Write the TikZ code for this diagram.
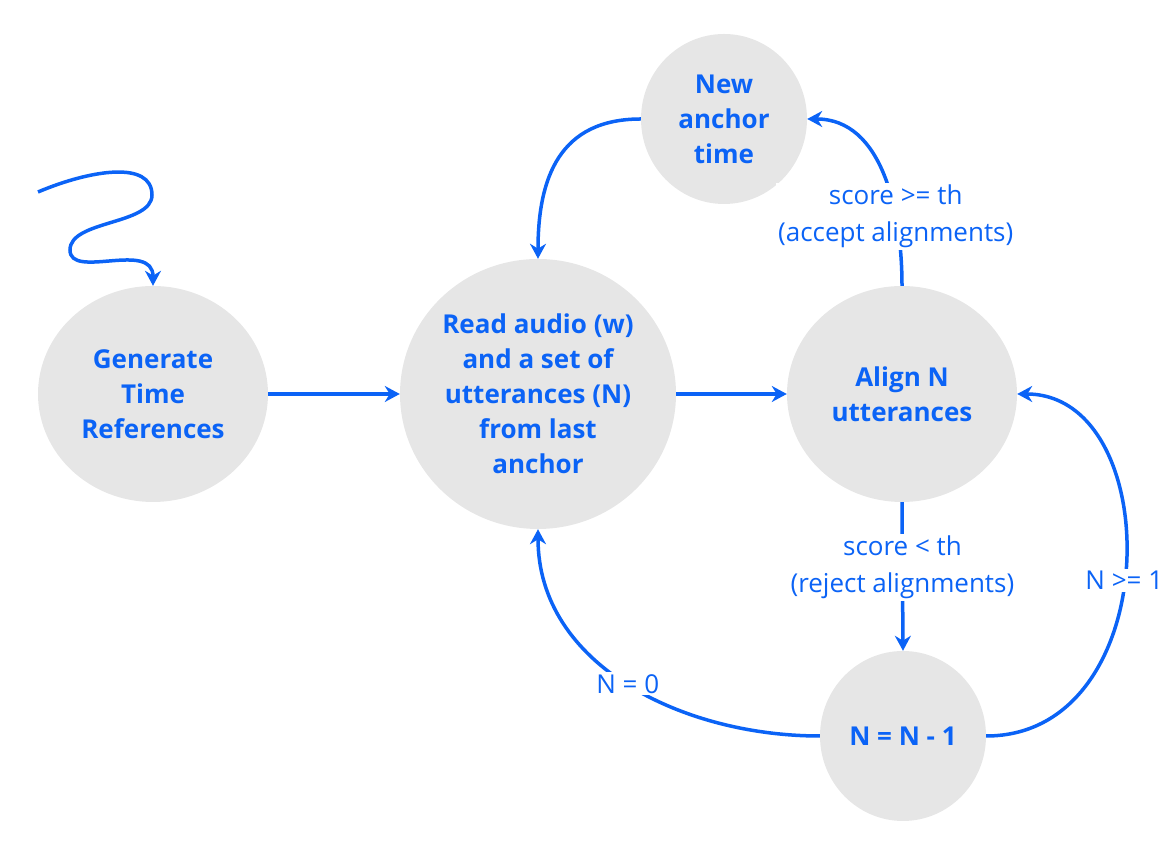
\documentclass[tikz,border=0pt]{standalone}
\usepackage{fontspec}
\setmainfont{Open Sans}
\usetikzlibrary{arrows.meta,shapes.geometric}
\definecolor{flowblue}{HTML}{0B63F6}
\definecolor{stategray}{HTML}{E6E6E6}

\begin{document}
\begin{tikzpicture}[x=1pt, y=1pt,
        state/.style = {ellipse, fill=stategray, inner sep=0pt, text=flowblue, align=center,
                        font=\fontsize{26}{35}\selectfont\bfseries},
        flow/.style  = {draw=flowblue, line width=3.5pt, -{Stealth[length=15pt,width=16pt]}},
        cond/.style  = {fill=white, text=flowblue, align=center, inner sep=2pt,
                        font=\fontsize{26}{37}\selectfont}]
        \useasboundingbox (0,0) rectangle (1165,858);

        % states
        \node [state, minimum width=230pt, minimum height=216pt] (gen)   at (153,464) {Generate\\Time\\References};
        \node [state, minimum width=276pt, minimum height=270pt] (read)  at (538,464) {Read audio (w)\\and a set of\\utterances (N)\\from last\\anchor};
        \node [state, minimum width=230pt, minimum height=216pt] (align) at (902,464) {Align N\\utterances};
        \node [state, minimum width=166pt, minimum height=170pt] (new)   at (724,739) {New\\anchor\\time};
        \node [state, minimum width=166pt, minimum height=170pt] (dec)   at (903,122) {N = N - 1};

        % start
        \coordinate (start) at (38,666);
        \draw [flow] (start) .. controls (90,688) and (152,698) .. (152,663)
                             .. controls (152,633) and (70,638) .. (70,608)
                             .. controls (70,578) and (153,618) .. (gen.north);

        % transitions
        \draw [flow] (gen) -- (read);
        \draw [flow] (read) -- (align);
        \draw [flow] (align.north) to [out=90, in=0]
              node [cond, pos=0.3] {score >= th\\(accept alignments)} (new.east);
        \draw [flow] (new.west) to [out=180, in=90, looseness=1.2] (read.north);
        \draw [flow] (align.south) -- node [cond, pos=0.44] {score < th\\(reject alignments)} (dec.north);
        \draw [flow] (dec.west) to [out=180, in=270] node [cond, pos=0.5] {N = 0} (read.south);
        \draw [flow] (dec.east) .. controls +(180,0) and +(150,0) ..
              node [cond, pos=0.47] {N >= 1} (align.east);

\end{tikzpicture}
\end{document}
